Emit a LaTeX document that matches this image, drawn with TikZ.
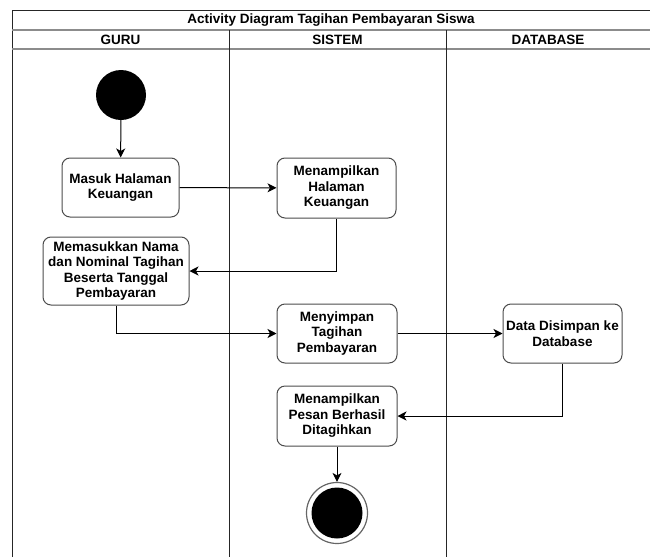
\documentclass[tikz,border=0pt]{standalone}
\usepackage{fontspec}
\setmainfont{Liberation Sans}
\usetikzlibrary{arrows.meta}
\begin{document}
\begin{tikzpicture}[x=1pt,y=-1pt,
  every node/.style={font=\bfseries\fontsize{13.5}{15.5}\selectfont},
  act/.style={draw=black!70, line width=1pt, rounded corners=8pt, fill=white,
    align=center, inner sep=0pt},
  flow/.style={draw=black, line width=1pt,
    -{Stealth[length=9pt,width=9pt,inset=2.5pt]}},
  lane/.style={draw=black!85, line width=1pt},
  rule/.style={draw=black!45, line width=1.4pt},
  label/.style={inner sep=0pt, anchor=center},
]
\useasboundingbox (0,0) rectangle (650,557);

% pool frame and swimlanes
\draw[lane] (12,557) -- (12,10) -- (650,10);
\draw[rule] (12,30) -- (650,30);
\draw[rule] (12,49) -- (650,49);
\draw[lane] (229,30) -- (229,557);
\draw[lane] (446,30) -- (446,557);

% titles
\node[label] (title) at (331,20.5) {Activity Diagram Tagihan Pembayaran Siswa};
\node[label] (guru) at (120.5,40) {GURU};
\node[label] (sistem) at (337.5,40) {SISTEM};
\node[label] (database) at (548,40) {DATABASE};

% start and end
\node[circle, fill=black, minimum size=50pt, inner sep=0pt] (start) at (121,95) {};
\node[circle, draw=black!60, line width=1.2pt, fill=white, minimum size=61pt, inner sep=0pt] (end) at (337,513) {};
\node[circle, fill=black, minimum size=51pt, inner sep=0pt] (endin) at (end.center) {};

% activities
\node[act, minimum width=117pt, minimum height=59pt] (masuk) at (120.5,187.5) {Masuk Halaman\\Keuangan};
\node[act, minimum width=146pt, minimum height=68pt] (masukkan) at (116,271) {Memasukkan Nama\\dan Nominal Tagihan\\Beserta Tanggal\\Pembayaran};
\node[act, minimum width=119pt, minimum height=60pt] (tampil) at (336.5,188) {Menampilkan\\Halaman\\Keuangan};
\node[act, minimum width=120pt, minimum height=59pt] (simpan) at (337,333.5) {Menyimpan\\Tagihan\\Pembayaran};
\node[act, minimum width=119pt, minimum height=59pt] (data) at (562.5,333.5) {Data Disimpan ke\\Database};
\node[act, minimum width=120pt, minimum height=60pt] (pesan) at (337,416) {Menampilkan\\Pesan Berhasil\\Ditagihkan};

% control flow
\draw[flow] (start) -- (masuk);
\draw[flow] (masuk) -- (tampil);
\draw[flow] (tampil.south) |- (masukkan.east);
\draw[flow] (masukkan.south) |- (simpan.west);
\draw[flow] (simpan) -- (data);
\draw[flow] (data.south) |- (pesan.east);
\draw[flow] (pesan) -- (end);
\end{tikzpicture}
\end{document}
